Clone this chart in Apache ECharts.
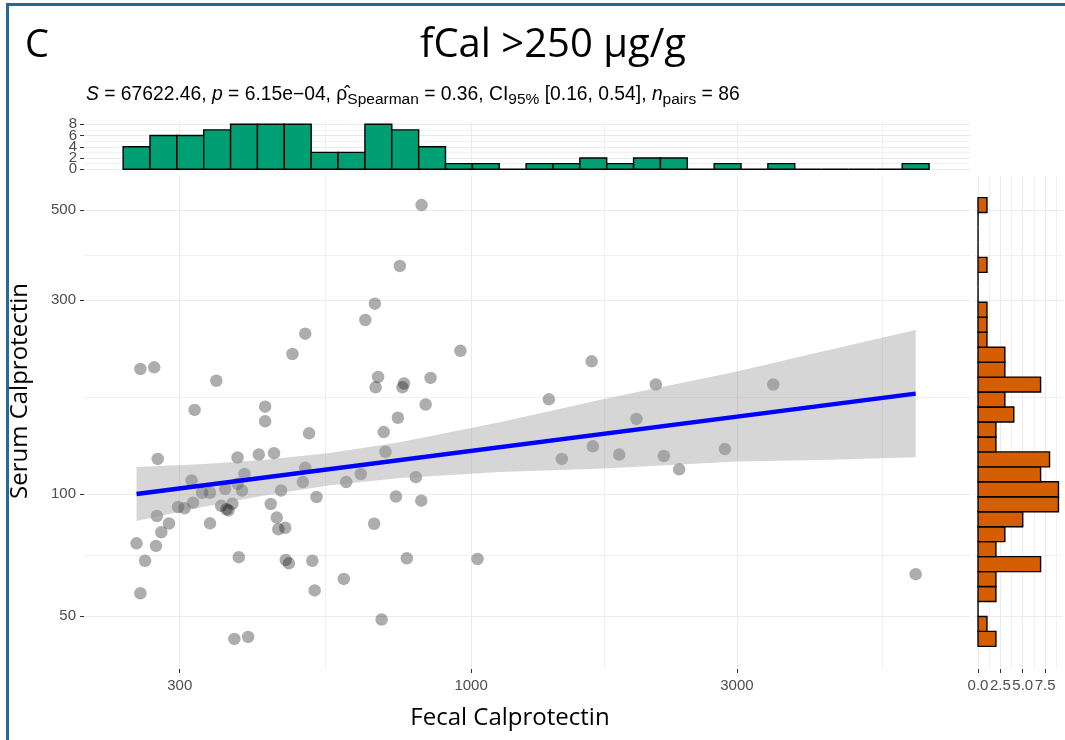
<!DOCTYPE html>
<html>
<head>
<meta charset="utf-8">
<script src="https://cdn.jsdelivr.net/npm/echarts@6/dist/echarts.min.js"></script>
<style>
  html, body { margin: 0; padding: 0; background: #fff; }
  #chart { width: 1065px; height: 740px; }
</style>
</head>
<body>
<div id="chart"></div>
<script>
// paired values (fecal vs serum calprotectin)
const fecalCal = [815, 745, 672, 646, 504, 478, 957, 255, 270, 349, 681, 674, 758, 753, 846, 319, 427, 427, 829, 739,
  512, 697, 1379, 1646, 2146, 3486, 1981, 1455, 1654, 1844, 2218, 2363, 2855, 6279, 504, 499, 528, 597, 634, 702,
  796, 733, 814, 670, 519, 524, 591, 767, 1027, 691, 274, 381, 416, 443, 315, 392, 456, 329, 340, 362,
  381, 388, 298, 306, 317, 356, 373, 364, 340, 273, 287, 278, 251, 272, 260, 255, 383, 376, 398, 437,
  448, 451, 464, 465, 471, 367];
const serumCal = [514, 364, 294, 268, 248, 221, 225, 203, 205, 190, 194, 183, 187, 183, 193, 161, 164, 151, 166, 154,
  141, 142, 171, 212, 186, 186, 153, 122, 131, 125, 124, 115, 129, 63.5, 116, 107, 98.3, 107, 112, 127,
  110, 98.6, 96.3, 84.5, 68.5, 57.9, 61.8, 69.5, 69.2, 49.1, 122, 123, 125, 126, 108, 112, 102, 100.6, 100.7, 103,
  106, 102, 92.9, 92.2, 95.2, 93.5, 94.6, 91.7, 84.7, 88.3, 84.6, 80.5, 75.6, 74.5, 68.5, 57.0, 69.9, 44.0, 44.5, 94.5,
  87.5, 81.9, 82.6, 68.8, 67.5, 91.1];

// marginal histograms, 30 bins each (low -> high)
const fecalCounts = [4, 6, 6, 7, 8, 8, 8, 3, 3, 8, 7, 4, 1, 1, 0, 1, 1, 2, 1, 2, 2, 0, 1, 0, 1, 0, 0, 0, 0, 1];
const serumCounts = [2, 1, 0, 2, 2, 7, 2, 3, 5, 9, 9, 7, 8, 2, 2, 4, 3, 7, 3, 3, 1, 1, 1, 0, 0, 1, 0, 0, 0, 1];

// fitted line and its 95% band (log-log)
const fitFecal = [251, 6279];
const fitSerum = [100, 176.6];
const bandFecal = [251, 326, 418, 558, 745, 1126, 1731, 3000, 4228, 6279];
const bandLower = [85.8, 92.6, 98.8, 105.1, 109.5, 113.2, 115.5, 120.2, 121.3, 123.1];
const bandUpper = [116.5, 118.4, 121.0, 126.1, 134.1, 150.2, 171.3, 200.1, 223.7, 253.4];

// axis breaks
const fecalRange = [202, 7860];
const serumRange = [37.1, 606];
const fecalTicks = [300, 1000, 3000];
const fecalMinor = [548, 1732, 5477];
const serumTicks = [50, 100, 300, 500];
const serumMinor = [70.7, 173.2, 387.3];
const countTicksA = [0, 4, 8];   // labels are packed tight, so they are split over two axes
const countTicksB = [2, 6];
const countMinor = [1, 3, 5, 7];
const sideTicks = [0, 2.5, 5, 7.5];
const sideMinor = [1.25, 3.75, 6.25, 8.75];

const lg = Math.log10;
const tickFont = 'Liberation Sans, Arial, sans-serif';
const titleFont = 'Open Sans, Noto Sans, sans-serif';
const gridCol = '#ebebeb';

// ggplot-style bins: width = range / (bins - 1), first bin centred on the minimum
const binsFor = (logs, n) => {
  const lo = Math.min(...logs), hi = Math.max(...logs);
  const w = (hi - lo) / (n - 1);
  return { start: lo - w / 2, w };
};
const fb = binsFor(fecalCal.map(lg), fecalCounts.length);
const sb = binsFor(serumCal.map(lg), serumCounts.length);
const topHist = fecalCounts.map((c, i) => [fb.start + i * fb.w, fb.start + (i + 1) * fb.w, c]);
const sideHist = serumCounts.map((c, i) => [c, sb.start + i * sb.w, sb.start + (i + 1) * sb.w]);

const majorAxis = (grid, range, ticks, extra) => Object.assign({
  gridIndex: grid, type: 'value', min: range[0], max: range[1],
  axisLine: { show: false },
  axisTick: { show: false, customValues: ticks },
  axisLabel: { show: false },
  splitLine: { show: true, lineStyle: { color: gridCol, width: 1.1 } }
}, extra || {});
const minorAxis = (grid, range, ticks) => ({
  gridIndex: grid, type: 'value', min: range[0], max: range[1],
  axisLine: { show: false },
  axisTick: { show: false, customValues: ticks },
  axisLabel: { show: false },
  splitLine: { show: true, lineStyle: { color: gridCol, width: 0.7 } }
});
const shownTick = { show: true, length: 4, lineStyle: { color: '#333', width: 1 } };
const labelStyle = { color: '#4d4d4d', fontSize: 15, fontFamily: tickFont, showMinLabel: true, showMaxLabel: true, hideOverlap: false };
const countAxis = (ticks) => majorAxis(1, [-0.4, 8.4], ticks, {
  position: 'left',
  axisTick: Object.assign({ customValues: ticks }, shownTick),
  axisLabel: Object.assign({ show: true, customValues: ticks, margin: 7 }, labelStyle)
});

const fx = [lg(fecalRange[0]), lg(fecalRange[1])];
const sy = [lg(serumRange[0]), lg(serumRange[1])];
const logFmt = v => String(Math.round(Math.pow(10, v)));

const chart = echarts.init(document.getElementById('chart'));
chart.setOption({
  animation: false,
  backgroundColor: '#fff',
  grid: [
    { left: 84, top: 176, width: 886, height: 493 },
    { left: 84, top: 122, width: 886, height: 49.5 },
    { left: 974, top: 176, width: 88.5, height: 493 }
  ],
  xAxis: [
    majorAxis(0, fx, fecalTicks.map(lg), {
      position: 'bottom',
      axisTick: Object.assign({ customValues: fecalTicks.map(lg) }, shownTick),
      axisLabel: Object.assign({ show: true, customValues: fecalTicks.map(lg), formatter: logFmt, margin: 9 }, labelStyle)
    }),
    minorAxis(0, fx, fecalMinor.map(lg)),
    majorAxis(1, fx, fecalTicks.map(lg)),
    minorAxis(1, fx, fecalMinor.map(lg)),
    majorAxis(2, [-0.45, 9.45], sideTicks, {
      position: 'bottom',
      axisTick: Object.assign({ customValues: sideTicks }, shownTick),
      axisLabel: Object.assign({ show: true, customValues: sideTicks, formatter: v => v.toFixed(1), margin: 9 }, labelStyle)
    }),
    minorAxis(2, [-0.45, 9.45], sideMinor)
  ],
  yAxis: [
    majorAxis(0, sy, serumTicks.map(lg), {
      position: 'left',
      axisTick: Object.assign({ customValues: serumTicks.map(lg) }, shownTick),
      axisLabel: Object.assign({ show: true, customValues: serumTicks.map(lg), formatter: logFmt, margin: 8 }, labelStyle)
    }),
    minorAxis(0, sy, serumMinor.map(lg)),
    countAxis(countTicksA),
    minorAxis(1, [-0.4, 8.4], countMinor),
    majorAxis(2, sy, serumTicks.map(lg)),
    minorAxis(2, sy, serumMinor.map(lg)),
    countAxis(countTicksB)
  ],
  series: [
    {
      type: 'scatter', xAxisIndex: 0, yAxisIndex: 0, z: 2,
      symbolSize: 12.5,
      itemStyle: { color: 'rgba(0,0,0,0.4)' },
      data: fecalCal.map((f, i) => [lg(f), lg(serumCal[i])])
    },
    {
      type: 'custom', xAxisIndex: 0, yAxisIndex: 0, z: 3,
      data: bandFecal.map((f, i) => [lg(f), lg(bandLower[i]), lg(bandUpper[i])]),
      encode: { x: 0, y: [1, 2] },
      renderItem: (params, api) => {
        if (params.dataIndex !== 0) return null;
        const up = bandFecal.map((f, i) => api.coord([lg(f), lg(bandUpper[i])]));
        const dn = bandFecal.map((f, i) => api.coord([lg(f), lg(bandLower[i])])).reverse();
        return { type: 'polygon', shape: { points: up.concat(dn) }, style: { fill: 'rgba(153,153,153,0.4)' } };
      }
    },
    {
      type: 'line', xAxisIndex: 0, yAxisIndex: 0, z: 4,
      symbol: 'none',
      lineStyle: { color: '#0000ff', width: 4.5 },
      data: fitFecal.map((f, i) => [lg(f), lg(fitSerum[i])])
    },
    {
      type: 'custom', xAxisIndex: 2, yAxisIndex: 2,
      data: topHist,
      encode: { x: [0, 1], y: 2 },
      renderItem: (params, api) => {
        const a = api.coord([api.value(0), 0]);
        const b = api.coord([api.value(1), api.value(2)]);
        return {
          type: 'rect',
          shape: { x: a[0], y: b[1], width: b[0] - a[0], height: a[1] - b[1] },
          style: { fill: '#009E73', stroke: '#000', lineWidth: 1.4 }
        };
      }
    },
    {
      type: 'custom', xAxisIndex: 4, yAxisIndex: 4,
      data: sideHist,
      encode: { x: 0, y: [1, 2] },
      renderItem: (params, api) => {
        const a = api.coord([0, api.value(1)]);
        const b = api.coord([api.value(0), api.value(2)]);
        return {
          type: 'rect',
          shape: { x: a[0], y: b[1], width: b[0] - a[0], height: a[1] - b[1] },
          style: { fill: '#D55E00', stroke: '#000', lineWidth: 1.4 }
        };
      }
    }
  ],
  graphic: [
    { type: 'rect', shape: { x: 6, y: 3, width: 1059, height: 3 }, style: { fill: '#236b94' } },
    { type: 'rect', shape: { x: 6, y: 3, width: 3, height: 737 }, style: { fill: '#236b94' } },
    { type: 'text', x: 37, y: 46, style: { text: 'C', font: '38px ' + titleFont, fill: '#000', align: 'center', verticalAlign: 'middle' } },
    { type: 'text', x: 553, y: 46, style: { text: 'fCal >250 µg/g', font: '40px ' + titleFont, fill: '#000', align: 'center', verticalAlign: 'middle' } },
    {
      type: 'text', x: 86, y: 95,
      style: {
        text: '{i|S} = 67622.46, {i|p} = 6.15e\u221204, \u03c1\u0302{sub|Spearman} = 0.36, CI{sub|95%} [0.16, 0.54], {i|n}{sub|pairs} = 86',
        font: '19.3px ' + tickFont, fill: '#000', verticalAlign: 'middle', lineHeight: 26,
        rich: {
          i: { fontStyle: 'italic', fontSize: 19.3, fontFamily: tickFont, lineHeight: 26 },
          sub: { fontSize: 15.5, fontFamily: tickFont, lineHeight: 14, verticalAlign: 'bottom' }
        }
      }
    },
    { type: 'text', x: 510, y: 718, style: { text: 'Fecal Calprotectin', font: '24px ' + titleFont, fill: '#000', align: 'center', verticalAlign: 'middle' } },
    { type: 'text', x: 20, y: 391, rotation: Math.PI / 2, style: { text: 'Serum Calprotectin', font: '24px ' + titleFont, fill: '#000', align: 'center', verticalAlign: 'middle' } }
  ]
});
</script>
</body>
</html>
